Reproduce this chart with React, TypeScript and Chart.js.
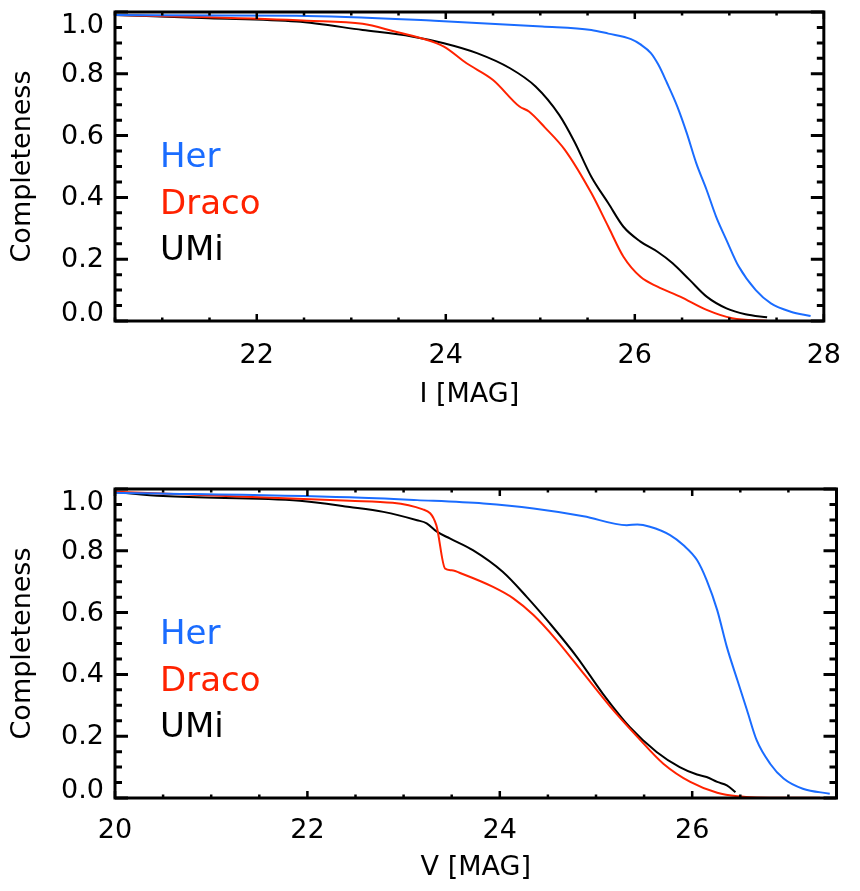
import React, { useEffect, useRef } from 'react';
import { Chart, registerables } from 'chart.js';

Chart.register(...registerables);

// ---------- Data ----------
// Top panel: I band
const iHerMag = [20.5, 22.42, 23.88, 25.02, 25.54, 25.72, 25.96, 26.06, 26.17, 26.25, 26.34, 26.45, 26.55, 26.65, 26.76, 26.86, 26.97, 27.1, 27.28, 27.44, 27.65, 27.86];
const iHerComp = [0.99, 0.988, 0.972, 0.953, 0.942, 0.93, 0.912, 0.895, 0.867, 0.829, 0.771, 0.694, 0.608, 0.511, 0.424, 0.338, 0.262, 0.176, 0.1, 0.057, 0.03, 0.016];

const iDracoMag = [20.5, 21.49, 22.53, 23.12, 23.46, 23.74, 23.98, 24.22, 24.5, 24.78, 24.88, 25.05, 25.26, 25.54, 25.72, 25.88, 26.06, 26.24, 26.48, 26.76, 27.03, 27.4];
const iDracoComp = [0.99, 0.983, 0.972, 0.962, 0.937, 0.915, 0.888, 0.834, 0.78, 0.694, 0.678, 0.626, 0.554, 0.414, 0.305, 0.208, 0.143, 0.111, 0.079, 0.036, 0.009, 0.001];

const iUmiMag = [20.5, 21.49, 22.42, 23.12, 23.64, 23.98, 24.33, 24.68, 24.95, 25.2, 25.36, 25.54, 25.72, 25.88, 26.06, 26.24, 26.4, 26.58, 26.76, 26.97, 27.17, 27.4];
const iUmiComp = [0.99, 0.98, 0.969, 0.942, 0.921, 0.899, 0.867, 0.818, 0.759, 0.667, 0.581, 0.467, 0.381, 0.305, 0.257, 0.224, 0.187, 0.133, 0.079, 0.041, 0.022, 0.012];

// Bottom panel: V band
const vHerMag = [20.0, 22.44, 23.14, 23.83, 24.35, 24.87, 25.32, 25.43, 25.56, 25.77, 25.91, 26.05, 26.15, 26.26, 26.36, 26.47, 26.57, 26.67, 26.81, 26.95, 27.15, 27.43];
const vHerComp = [0.988, 0.973, 0.964, 0.953, 0.937, 0.912, 0.883, 0.885, 0.878, 0.851, 0.818, 0.77, 0.705, 0.608, 0.489, 0.381, 0.284, 0.187, 0.111, 0.063, 0.03, 0.014];

const vDracoMag = [20.0, 22.44, 23.2, 23.34, 23.43, 23.5, 23.62, 23.93, 24.14, 24.35, 24.59, 24.87, 25.15, 25.43, 25.7, 25.98, 26.26, 26.47, 26.95, 27.33];
const vDracoComp = [0.991, 0.962, 0.934, 0.883, 0.743, 0.737, 0.724, 0.683, 0.646, 0.592, 0.511, 0.403, 0.295, 0.198, 0.111, 0.052, 0.017, 0.006, 0.001, 0.001];

const vUmiMag = [20.0, 20.5, 21.92, 22.44, 22.79, 23.14, 23.24, 23.35, 23.48, 23.72, 24.03, 24.28, 24.52, 24.8, 25.07, 25.35, 25.63, 25.87, 26.05, 26.15, 26.26, 26.36, 26.45];
const vUmiComp = [0.99, 0.977, 0.962, 0.942, 0.926, 0.899, 0.889, 0.861, 0.84, 0.802, 0.732, 0.651, 0.565, 0.457, 0.338, 0.23, 0.149, 0.1, 0.076, 0.068, 0.052, 0.041, 0.019];

const seriesNames = ['Her', 'Draco', 'UMi'];
const seriesColors = ['#1a6cff', '#ff2200', '#000000'];

const yTitle = 'Completeness';
const topXTitle = 'I [MAG]';
const bottomXTitle = 'V [MAG]';
const topXRange = [20.5, 28];
const bottomXRange = [20, 27.5];

const FONT = '"DejaVu Sans", sans-serif';

const pairs = (xs: number[], ys: number[]) => xs.map((x, i) => ({ x, y: ys[i] }));

// Frame, inward ticks, y labels, text legend (IDL look)
const idlPlugin = {
  id: 'idlFrame',
  afterDraw(chart: any) {
    const { ctx, chartArea } = chart;
    const { left, right, top, bottom } = chartArea;
    const xs = chart.scales.x;
    const ys = chart.scales.y;
    ctx.save();
    ctx.strokeStyle = '#000';
    ctx.lineCap = 'butt';
    // x ticks (bottom + top, inward)
    ctx.lineWidth = 2.5;
    xs.ticks.forEach((t: any) => {
      const px = xs.getPixelForValue(t.value);
      const major = Math.abs(t.value / 2 - Math.round(t.value / 2)) < 1e-6;
      const len = major ? 7 : 3.5;
      ctx.beginPath();
      ctx.moveTo(px, bottom);
      ctx.lineTo(px, bottom - len);
      ctx.moveTo(px, top);
      ctx.lineTo(px, top + len);
      ctx.stroke();
    });
    // y ticks (left + right, inward) and labels
    ctx.fillStyle = '#000';
    ctx.font = `27px ${FONT}`;
    ctx.textAlign = 'right';
    ctx.textBaseline = 'middle';
    ys.ticks.forEach((t: any) => {
      const py = ys.getPixelForValue(t.value);
      const major = Math.abs(t.value * 5 - Math.round(t.value * 5)) < 1e-6;
      const len = major ? 13 : 7;
      ctx.lineWidth = 3;
      ctx.beginPath();
      ctx.moveTo(left, py);
      ctx.lineTo(left + len, py);
      ctx.moveTo(right, py);
      ctx.lineTo(right - len, py);
      ctx.stroke();
      if (major) {
        const ly = Math.max(top + 12.5, Math.min(bottom - 8, py));
        ctx.fillText(Number(t.value).toFixed(1), left - 11, ly + 1);
      }
    });
    // frame
    ctx.lineWidth = 3;
    ctx.strokeRect(left, top, right - left, bottom - top);
    // text legend
    ctx.font = `34px ${FONT}`;
    ctx.textAlign = 'left';
    ctx.textBaseline = 'alphabetic';
    chart.data.datasets.forEach((ds: any, i: number) => {
      ctx.fillStyle = ds.borderColor;
      ctx.fillText(ds.label, left + 45, top + 155 + i * 46.5);
    });
    ctx.restore();
  },
};

type PanelProps = {
  height: number;
  padTop: number;
  xHeight: number;
  xRange: number[];
  xTitle: string;
  xTitlePad: number;
  xTickPad: number;
  series: { x: number; y: number }[][];
};

function Panel(props: PanelProps) {
  const ref = useRef<HTMLCanvasElement | null>(null);
  useEffect(() => {
    if (!ref.current) return;
    const chart = new Chart(ref.current, {
      type: 'line',
      data: {
        datasets: props.series.map((d, i) => ({
          label: seriesNames[i],
          data: d,
          borderColor: seriesColors[i],
          backgroundColor: seriesColors[i],
          borderWidth: 2,
          pointRadius: 0,
          cubicInterpolationMode: 'monotone',
          fill: false,
        })),
      },
      options: {
        animation: false,
        responsive: false,
        devicePixelRatio: 1,
        events: [],
        layout: { padding: { left: 0, right: 23.5, top: props.padTop, bottom: 0 } },
        plugins: { legend: { display: false }, tooltip: { enabled: false }, title: { display: false } },
        scales: {
          x: {
            type: 'linear',
            min: props.xRange[0],
            max: props.xRange[1],
            grid: { display: false, drawTicks: false },
            border: { display: false },
            ticks: {
              stepSize: 0.5,
              autoSkip: false,
              maxRotation: 0,
              minRotation: 0,
              maxTicksLimit: 100,
              padding: props.xTickPad,
              color: '#000',
              font: { family: FONT, size: 27 },
              callback: (v: any) => (Math.abs(Number(v) % 2) < 1e-9 ? String(v) : ''),
            },
            title: {
              display: true,
              text: props.xTitle,
              color: '#000',
              font: { family: FONT, size: 27 },
              padding: { top: 0, bottom: props.xTitlePad },
            },
            afterFit: (s: any) => {
              s.height = props.xHeight;
            },
          },
          y: {
            type: 'linear',
            min: 0,
            max: 1,
            grid: { display: false, drawTicks: false },
            border: { display: false },
            ticks: { display: false, stepSize: 0.05, maxTicksLimit: 100, autoSkip: false },
            title: {
              display: true,
              text: yTitle,
              color: '#000',
              font: { family: FONT, size: 27 },
              padding: { top: 7, bottom: 0 },
            },
            afterFit: (s: any) => {
              s.width = 115;
            },
          },
        },
      } as any,
      plugins: [idlPlugin],
    });
    return () => chart.destroy();
  }, []);
  return <canvas ref={ref} width={860} height={props.height} style={{ display: 'block', width: 860, height: props.height }} />;
}

export default function App() {
  return (
    <div style={{ position: 'absolute', left: 0, top: 0, width: 860, height: 891, background: '#fff' }}>
      <Panel
        height={445}
        padTop={12}
        xHeight={124}
        xRange={topXRange}
        xTitle={topXTitle}
        xTitlePad={34}
        xTickPad={19}
        series={[pairs(iHerMag, iHerComp), pairs(iDracoMag, iDracoComp), pairs(iUmiMag, iUmiComp)]}
      />
      <Panel
        height={446}
        padTop={44}
        xHeight={93}
        xRange={bottomXRange}
        xTitle={bottomXTitle}
        xTitlePad={7}
        xTickPad={17}
        series={[pairs(vHerMag, vHerComp), pairs(vDracoMag, vDracoComp), pairs(vUmiMag, vUmiComp)]}
      />
    </div>
  );
}
